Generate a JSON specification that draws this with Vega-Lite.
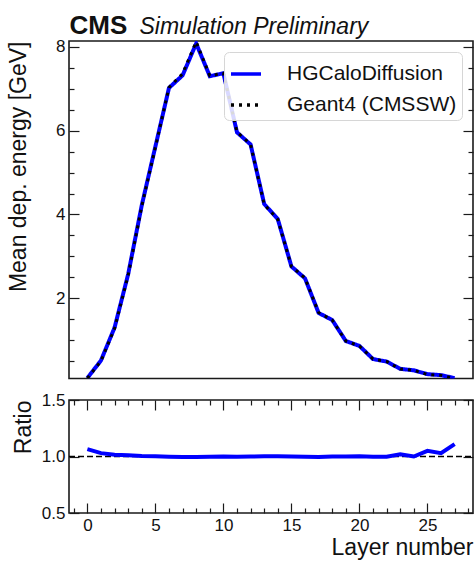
{
  "$schema": "https://vega.github.io/schema/vega-lite/v6.json",
  "background": "white",
  "padding": {"left": 6, "top": 11, "right": 2, "bottom": 2},
  "autosize": {"type": "pad"},
  "datasets": {
    "geant4": [
      {"layer": 0, "energy": 0.09}, {"layer": 1, "energy": 0.50}, {"layer": 2, "energy": 1.28},
      {"layer": 3, "energy": 2.55}, {"layer": 4, "energy": 4.20}, {"layer": 5, "energy": 5.60},
      {"layer": 6, "energy": 7.03}, {"layer": 7, "energy": 7.36}, {"layer": 8, "energy": 8.12},
      {"layer": 9, "energy": 7.31}, {"layer": 10, "energy": 7.37}, {"layer": 11, "energy": 5.97},
      {"layer": 12, "energy": 5.67}, {"layer": 13, "energy": 4.24}, {"layer": 14, "energy": 3.88},
      {"layer": 15, "energy": 2.76}, {"layer": 16, "energy": 2.48}, {"layer": 17, "energy": 1.66},
      {"layer": 18, "energy": 1.48}, {"layer": 19, "energy": 0.98}, {"layer": 20, "energy": 0.86},
      {"layer": 21, "energy": 0.55}, {"layer": 22, "energy": 0.49}, {"layer": 23, "energy": 0.31},
      {"layer": 24, "energy": 0.28}, {"layer": 25, "energy": 0.18}, {"layer": 26, "energy": 0.16},
      {"layer": 27, "energy": 0.085}
    ],
    "hgcal": [
      {"layer": 0, "energy": 0.096}, {"layer": 1, "energy": 0.515}, {"layer": 2, "energy": 1.30},
      {"layer": 3, "energy": 2.575}, {"layer": 4, "energy": 4.22}, {"layer": 5, "energy": 5.62},
      {"layer": 6, "energy": 7.02}, {"layer": 7, "energy": 7.32}, {"layer": 8, "energy": 8.08},
      {"layer": 9, "energy": 7.30}, {"layer": 10, "energy": 7.37}, {"layer": 11, "energy": 5.96},
      {"layer": 12, "energy": 5.67}, {"layer": 13, "energy": 4.25}, {"layer": 14, "energy": 3.89},
      {"layer": 15, "energy": 2.76}, {"layer": 16, "energy": 2.475}, {"layer": 17, "energy": 1.65},
      {"layer": 18, "energy": 1.48}, {"layer": 19, "energy": 0.98}, {"layer": 20, "energy": 0.863},
      {"layer": 21, "energy": 0.549}, {"layer": 22, "energy": 0.489}, {"layer": 23, "energy": 0.316},
      {"layer": 24, "energy": 0.28}, {"layer": 25, "energy": 0.189}, {"layer": 26, "energy": 0.165},
      {"layer": 27, "energy": 0.094}
    ],
    "ratio": [
      {"layer": 0, "ratio": 1.065}, {"layer": 1, "ratio": 1.03}, {"layer": 2, "ratio": 1.015},
      {"layer": 3, "ratio": 1.01}, {"layer": 4, "ratio": 1.005}, {"layer": 5, "ratio": 1.003},
      {"layer": 6, "ratio": 0.998}, {"layer": 7, "ratio": 0.995}, {"layer": 8, "ratio": 0.995},
      {"layer": 9, "ratio": 0.998}, {"layer": 10, "ratio": 1.0}, {"layer": 11, "ratio": 0.998},
      {"layer": 12, "ratio": 1.0}, {"layer": 13, "ratio": 1.002}, {"layer": 14, "ratio": 1.003},
      {"layer": 15, "ratio": 1.0}, {"layer": 16, "ratio": 0.998}, {"layer": 17, "ratio": 0.995},
      {"layer": 18, "ratio": 1.0}, {"layer": 19, "ratio": 1.0}, {"layer": 20, "ratio": 1.003},
      {"layer": 21, "ratio": 0.998}, {"layer": 22, "ratio": 0.998}, {"layer": 23, "ratio": 1.02},
      {"layer": 24, "ratio": 1.0}, {"layer": 25, "ratio": 1.05}, {"layer": 26, "ratio": 1.03},
      {"layer": 27, "ratio": 1.11}
    ]
  },
  "vconcat": [
    {
      "width": 404,
      "height": 337.5,
      "layer": [
        {
          "data": {"name": "hgcal"},
          "mark": {"type": "line", "strokeWidth": 4, "clip": true},
          "encoding": {
            "x": {
              "field": "layer", "type": "quantitative",
              "scale": {"domain": [-1.35, 28.35], "nice": false, "zero": false},
              "axis": {
                "orient": "top", "ticks": false, "labels": false, "domain": false,
                "title": "Simulation Preliminary", "titleX": 70, "titleY": -7.8,
                "titleAlign": "left", "titleBaseline": "alphabetic", "titleAngle": 0,
                "titleFontStyle": "italic", "titleFontSize": 23, "titleFontWeight": "normal"
              }
            },
            "y": {
              "field": "energy", "type": "quantitative",
              "scale": {"domain": [0.085, 8.14], "nice": false, "zero": false},
              "axis": {
                "orient": "left",
                "values": [0.5, 1, 1.5, 2, 2.5, 3, 3.5, 4, 4.5, 5, 5.5, 6, 6.5, 7, 7.5, 8],
                "tickSize": {"condition": {"test": "datum.value % 2 === 0", "value": -10}, "value": -5},
                "labelExpr": "datum.value % 2 === 0 ? format(datum.value, 'd') : ''",
                "labelPadding": 14, "labelFlush": false, "labelOverlap": false,
                "title": "Mean dep. energy [GeV]", "titleAnchor": "end", "titleX": -44,
                "titleBaseline": "alphabetic"
              }
            },
            "color": {
              "datum": "HGCaloDiffusion",
              "scale": {"domain": ["HGCaloDiffusion", "Geant4 (CMSSW)"], "range": ["#0000ff", "#000000"]},
              "legend": {
                "title": null, "orient": "top-right", "offset": 11,
                "symbolType": "stroke", "symbolSize": 900, "symbolStrokeWidth": 3.5,
                "labelFontSize": 21, "labelFont": "Liberation Sans", "labelColor": "#111",
                "labelOffset": 24, "padding": 5, "rowPadding": 4,
                "fillColor": "rgba(255,255,255,0.85)", "strokeColor": "#d6d6d6",
                "cornerRadius": 5, "labelLimit": 400
              }
            },
            "strokeDash": {
              "datum": "HGCaloDiffusion",
              "scale": {"domain": ["HGCaloDiffusion", "Geant4 (CMSSW)"], "range": [[1, 0], [3, 5]]},
              "legend": {
                "title": null, "orient": "top-right", "offset": 11,
                "symbolType": "stroke", "symbolSize": 900, "symbolStrokeWidth": 3.5,
                "labelFontSize": 21, "labelFont": "Liberation Sans", "labelColor": "#111",
                "labelOffset": 24, "padding": 5, "rowPadding": 4,
                "fillColor": "rgba(255,255,255,0.85)", "strokeColor": "#d6d6d6",
                "cornerRadius": 5, "labelLimit": 400
              }
            }
          }
        },
        {
          "data": {"name": "geant4"},
          "mark": {"type": "line", "strokeWidth": 3, "strokeCap": "butt", "clip": true},
          "encoding": {
            "x": {"field": "layer", "type": "quantitative"},
            "y": {
              "field": "energy", "type": "quantitative",
              "axis": {
                "orient": "right",
                "values": [0.5, 1, 1.5, 2, 2.5, 3, 3.5, 4, 4.5, 5, 5.5, 6, 6.5, 7, 7.5, 8],
                "tickSize": {"condition": {"test": "datum.value % 2 === 0", "value": -10}, "value": -5},
                "labels": false,
                "title": "CMS", "titleX": -404, "titleY": -7.8, "titleAngle": 0,
                "titleAlign": "left", "titleBaseline": "alphabetic",
                "titleFontSize": 26, "titleFontWeight": "bold"
              }
            },
            "color": {"datum": "Geant4 (CMSSW)"},
            "strokeDash": {"datum": "Geant4 (CMSSW)"}
          }
        }
      ],
      "resolve": {"axis": {"y": "independent"}}
    },
    {
      "width": 404,
      "height": 113,
      "layer": [
        {
          "data": {"values": [{}]},
          "mark": {"type": "rule", "color": "#000000", "strokeWidth": 1.5, "strokeDash": [6, 3]},
          "encoding": {
            "x": {
              "datum": -1.35, "type": "quantitative",
              "scale": {"domain": [-1.35, 28.35], "nice": false, "zero": false},
              "axis": {
                "orient": "top",
                "values": [-1, 0, 1, 2, 3, 4, 5, 6, 7, 8, 9, 10, 11, 12, 13, 14, 15, 16, 17, 18, 19, 20, 21, 22, 23, 24, 25, 26, 27, 28],
                "tickSize": {"condition": {"test": "datum.value % 5 === 0", "value": -10}, "value": -5},
                "labels": false, "title": null
              }
            },
            "x2": {"datum": 28.35},
            "y": {
              "datum": 1, "type": "quantitative",
              "scale": {"domain": [0.5, 1.5], "nice": false, "zero": false},
              "axis": {
                "orient": "right", "values": [0.5, 1.0, 1.5], "tickSize": -10,
                "labels": false, "title": null
              }
            }
          }
        },
        {
          "data": {"name": "ratio"},
          "mark": {"type": "line", "color": "#0000ff", "strokeWidth": 4, "clip": true},
          "encoding": {
            "x": {
              "field": "layer", "type": "quantitative",
              "axis": {
                "orient": "bottom",
                "values": [-1, 0, 1, 2, 3, 4, 5, 6, 7, 8, 9, 10, 11, 12, 13, 14, 15, 16, 17, 18, 19, 20, 21, 22, 23, 24, 25, 26, 27, 28],
                "tickSize": {"condition": {"test": "datum.value % 5 === 0", "value": -10}, "value": -5},
                "labelExpr": "datum.value % 5 === 0 ? format(datum.value, 'd') : ''",
                "labelPadding": 14.5, "labelFlush": false, "labelOverlap": false,
                "title": "Layer number", "titleX": 404, "titleY": 41,
                "titleAlign": "right", "titleBaseline": "alphabetic"
              }
            },
            "y": {
              "field": "ratio", "type": "quantitative",
              "axis": {
                "orient": "left", "values": [0.5, 1.0, 1.5], "tickSize": -10,
                "format": ".1f", "labelPadding": 14, "labelFlush": false, "labelOverlap": false,
                "title": "Ratio", "titleAnchor": "end", "titleX": -39,
                "titleBaseline": "alphabetic"
              }
            }
          }
        }
      ],
      "resolve": {"axis": {"x": "independent", "y": "independent"}}
    }
  ],
  "spacing": 21,
  "bounds": "flush",
  "config": {
    "font": "Liberation Sans",
    "view": {"stroke": "#1a1a1a", "strokeWidth": 1.6},
    "axis": {
      "domain": false, "grid": false,
      "tickColor": "#1a1a1a", "tickWidth": 1.2,
      "labelFont": "Liberation Sans", "labelFontSize": 17, "labelColor": "#111",
      "titleFont": "Liberation Sans", "titleFontSize": 23, "titleFontWeight": "normal", "titleColor": "#111"
    }
  }
}
